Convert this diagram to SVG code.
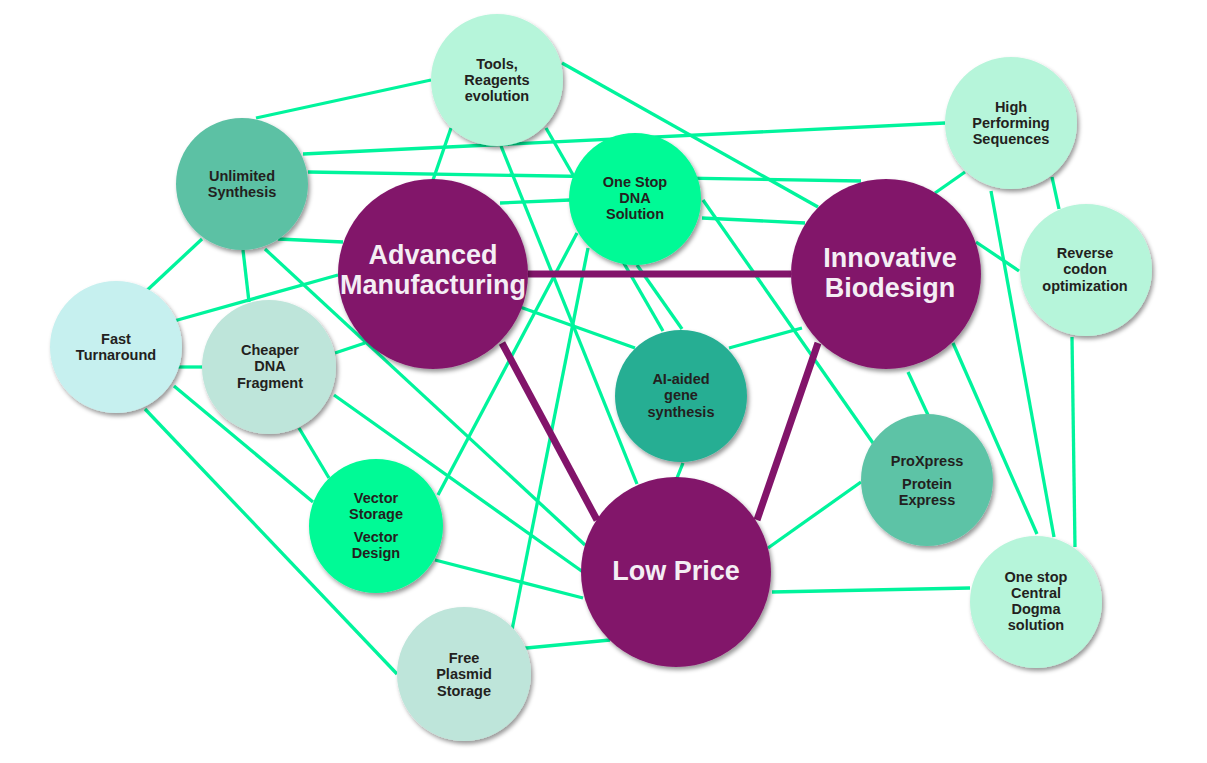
<svg xmlns="http://www.w3.org/2000/svg" width="1207" height="763" viewBox="0 0 1207 763">
<defs>
<filter id="sh" x="-20%" y="-20%" width="140%" height="140%">
<feDropShadow dx="2" dy="3" stdDeviation="2" flood-color="#000" flood-opacity="0.4"/>
</filter>
<style>
.g{stroke:#00F49C;stroke-width:3.3;fill:none;stroke-linecap:butt}
.p{stroke:#82146A;stroke-width:7;fill:none}
.n{filter:url(#sh)}
.t{font-family:"Liberation Sans",Arial,sans-serif;font-weight:bold;font-size:14.5px;fill:#231F20;text-anchor:middle}
.b{font-family:"Liberation Sans",Arial,sans-serif;font-weight:bold;font-size:27px;fill:#F4EEF4;text-anchor:middle}
.c1{fill:#B6F5DA}.c2{fill:#5CC1A4}.c3{fill:#C6F0EF}.c4{fill:#BEE5DA}.c5{fill:#00FA96}.c6{fill:#26AE93}.c7{fill:#5DC3A6}.cp{fill:#82146A}
</style>
</defs>
<rect width="1207" height="763" fill="#FFFFFF"/>
<g id="connectors">
<line class="g" x1="431" y1="80" x2="256" y2="118"/>
<line class="g" x1="451" y1="128" x2="433" y2="180"/>
<line class="g" x1="501" y1="146" x2="637" y2="484"/>
<line class="g" x1="546" y1="128" x2="663" y2="331"/>
<line class="g" x1="562" y1="63" x2="818" y2="207"/>
<line class="g" x1="303" y1="154" x2="945" y2="123"/>
<line class="g" x1="308" y1="172" x2="861" y2="181"/>
<line class="g" x1="500" y1="203" x2="570" y2="200"/>
<line class="g" x1="702" y1="218" x2="805" y2="223"/>
<line class="g" x1="703" y1="200" x2="873" y2="443"/>
<line class="g" x1="278" y1="239" x2="343" y2="242"/>
<line class="g" x1="202" y1="239" x2="142" y2="295"/>
<line class="g" x1="243" y1="250" x2="249" y2="302"/>
<line class="g" x1="265" y1="249" x2="585" y2="545"/>
<line class="g" x1="174" y1="321" x2="338" y2="275"/>
<line class="g" x1="178" y1="367" x2="203" y2="367"/>
<line class="g" x1="174" y1="386" x2="313" y2="502"/>
<line class="g" x1="145" y1="409" x2="397" y2="674"/>
<line class="g" x1="335" y1="353" x2="365" y2="343"/>
<line class="g" x1="334" y1="395" x2="583" y2="572"/>
<line class="g" x1="299" y1="428" x2="329" y2="478"/>
<line class="g" x1="577" y1="233" x2="438" y2="495"/>
<line class="g" x1="588" y1="248" x2="512" y2="630"/>
<line class="g" x1="435" y1="560" x2="583" y2="598"/>
<line class="g" x1="516" y1="649" x2="610" y2="640"/>
<line class="g" x1="520" y1="307" x2="635" y2="348"/>
<line class="g" x1="802" y1="328" x2="729" y2="348"/>
<line class="g" x1="683" y1="463" x2="677" y2="478"/>
<line class="g" x1="908" y1="372" x2="928" y2="415"/>
<line class="g" x1="953" y1="343" x2="1037" y2="534"/>
<line class="g" x1="861" y1="482" x2="768" y2="548"/>
<line class="g" x1="772" y1="592" x2="970" y2="588"/>
<line class="g" x1="965" y1="172" x2="935" y2="193"/>
<line class="g" x1="991" y1="191" x2="1054" y2="537"/>
<line class="g" x1="1052" y1="177" x2="1059" y2="209"/>
<line class="g" x1="976" y1="242" x2="1019" y2="271"/>
<line class="g" x1="1072" y1="337" x2="1075" y2="547"/>
<line class="g" x1="637" y1="265" x2="682" y2="329"/>
<line class="p" x1="528" y1="274" x2="791" y2="274"/>
<line class="p" x1="502" y1="343" x2="597" y2="520"/>
<line class="p" x1="818" y1="343" x2="757" y2="520"/>
</g>
<g id="tools">
<circle class="n c1" cx="497" cy="80" r="66"/>
<text class="t" x="497" y="69">Tools,</text><text class="t" x="497" y="85">Reagents</text><text class="t" x="497" y="101">evolution</text>
</g>
<g id="unlimited">
<circle class="n c2" cx="242" cy="184" r="66"/>
<text class="t" x="242" y="181">Unlimited</text><text class="t" x="242" y="197">Synthesis</text>
</g>
<g id="onestop">
<circle class="n c5" cx="635" cy="199" r="66"/>
<text class="t" x="635" y="187">One Stop</text><text class="t" x="635" y="203">DNA</text><text class="t" x="635" y="219">Solution</text>
</g>
<g id="highperf">
<circle class="n c1" cx="1011" cy="123" r="66"/>
<text class="t" x="1011" y="112">High</text><text class="t" x="1011" y="128">Performing</text><text class="t" x="1011" y="144">Sequences</text>
</g>
<g id="reverse">
<circle class="n c1" cx="1086" cy="270" r="66"/>
<text class="t" x="1085" y="258">Reverse</text><text class="t" x="1085" y="274">codon</text><text class="t" x="1085" y="291">optimization</text>
</g>
<g id="fast">
<circle class="n c3" cx="116" cy="347" r="66"/>
<text class="t" x="116" y="344">Fast</text><text class="t" x="116" y="360">Turnaround</text>
</g>
<g id="cheaper">
<circle class="n c4" cx="269" cy="367" r="67"/>
<text class="t" x="270" y="355">Cheaper</text><text class="t" x="270" y="371">DNA</text><text class="t" x="270" y="388">Fragment</text>
</g>
<g id="vector">
<circle class="n c5" cx="376" cy="526" r="67"/>
<text class="t" x="376" y="503">Vector</text><text class="t" x="376" y="519">Storage</text><text class="t" x="376" y="542">Vector</text><text class="t" x="376" y="558">Design</text>
</g>
<g id="aiaided">
<circle class="n c6" cx="681" cy="396" r="66"/>
<text class="t" x="681" y="384">AI-aided</text><text class="t" x="681" y="400">gene</text><text class="t" x="681" y="417">synthesis</text>
</g>
<g id="proxpress">
<circle class="n c7" cx="927" cy="480" r="66"/>
<text class="t" x="927" y="466">ProXpress</text><text class="t" x="927" y="489">Protein</text><text class="t" x="927" y="505">Express</text>
</g>
<g id="freeplasmid">
<circle class="n c4" cx="464" cy="674" r="67"/>
<text class="t" x="464" y="663">Free</text><text class="t" x="464" y="679">Plasmid</text><text class="t" x="464" y="696">Storage</text>
</g>
<g id="centraldogma">
<circle class="n c1" cx="1036" cy="602" r="66"/>
<text class="t" x="1036" y="582">One stop</text><text class="t" x="1036" y="598">Central</text><text class="t" x="1036" y="614">Dogma</text><text class="t" x="1036" y="630">solution</text>
</g>
<g id="advanced">
<circle class="n cp" cx="433" cy="274" r="95"/>
<text class="b" x="433" y="264">Advanced</text><text class="b" x="433" y="294">Manufacturing</text>
</g>
<g id="innovative">
<circle class="n cp" cx="886" cy="274" r="95"/>
<text class="b" x="890" y="267">Innovative</text><text class="b" x="890" y="297">Biodesign</text>
</g>
<g id="lowprice">
<circle class="n cp" cx="676" cy="572" r="95"/>
<text class="b" x="676" y="580">Low Price</text>
</g>
</svg>
